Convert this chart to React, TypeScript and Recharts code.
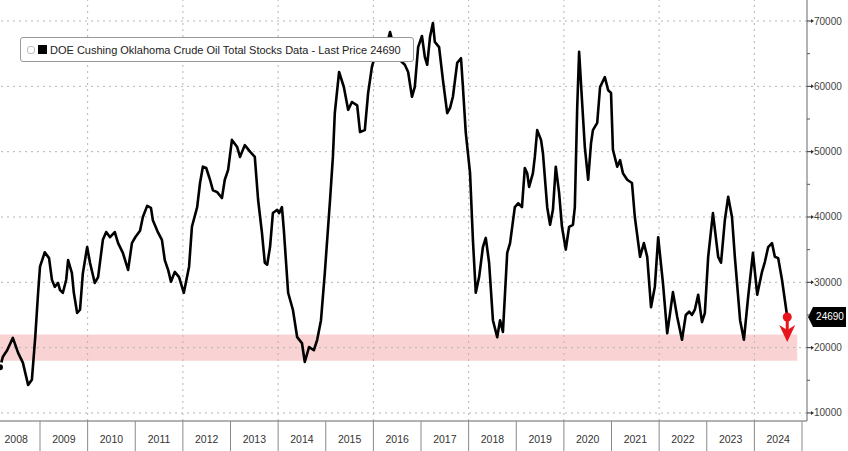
import React from "react";
import {
  LineChart,
  Line,
  XAxis,
  YAxis,
  ReferenceLine,
  ReferenceArea,
  ReferenceDot,
} from "recharts";

// Decimal-year dates of the weekly-ish readings
const dates = [
  2008.16, 2008.22, 2008.31, 2008.43, 2008.54, 2008.64, 2008.75, 2008.83, 2008.9, 2008.96,
  2009.0, 2009.1, 2009.19, 2009.25, 2009.31, 2009.38, 2009.42, 2009.48, 2009.55, 2009.59,
  2009.67, 2009.71, 2009.78, 2009.84, 2009.9, 2009.99, 2010.05, 2010.15, 2010.22, 2010.32,
  2010.39, 2010.47, 2010.57, 2010.64, 2010.74, 2010.85, 2010.93, 2011.0, 2011.1, 2011.16,
  2011.25, 2011.33, 2011.37, 2011.48, 2011.56, 2011.62, 2011.69, 2011.75, 2011.83, 2011.92,
  2012.02, 2012.13, 2012.19, 2012.3, 2012.36, 2012.42, 2012.49, 2012.57, 2012.63, 2012.72,
  2012.82, 2012.88, 2012.95, 2013.03, 2013.14, 2013.2, 2013.3, 2013.41, 2013.51, 2013.58,
  2013.66, 2013.72, 2013.77, 2013.83, 2013.89, 2013.98, 2014.02, 2014.08, 2014.12, 2014.21,
  2014.31, 2014.4, 2014.5, 2014.56, 2014.65, 2014.75, 2014.82, 2014.9, 2014.98, 2015.09,
  2015.15, 2015.19, 2015.28, 2015.38, 2015.47, 2015.55, 2015.66, 2015.72, 2015.82, 2015.89,
  2015.97, 2016.05, 2016.15, 2016.25, 2016.35, 2016.45, 2016.56, 2016.66, 2016.73, 2016.81,
  2016.87, 2016.94, 2017.02, 2017.08, 2017.13, 2017.19, 2017.25, 2017.29, 2017.38, 2017.46,
  2017.55, 2017.61, 2017.67, 2017.76, 2017.84, 2017.88, 2017.94, 2018.03, 2018.09, 2018.15,
  2018.22, 2018.3, 2018.36, 2018.43, 2018.51, 2018.6, 2018.66, 2018.72, 2018.81, 2018.87,
  2018.97, 2019.04, 2019.12, 2019.18, 2019.23, 2019.27, 2019.35, 2019.39, 2019.44, 2019.52,
  2019.56, 2019.65, 2019.71, 2019.77, 2019.83, 2019.9, 2019.96, 2020.04, 2020.11, 2020.19,
  2020.23, 2020.28, 2020.32, 2020.38, 2020.44, 2020.51, 2020.57, 2020.61, 2020.7, 2020.76,
  2020.86, 2020.93, 2020.99, 2021.03, 2021.12, 2021.18, 2021.24, 2021.33, 2021.43, 2021.49,
  2021.6, 2021.68, 2021.75, 2021.83, 2021.91, 2021.98, 2022.08, 2022.17, 2022.23, 2022.29,
  2022.38, 2022.48, 2022.56, 2022.63, 2022.69, 2022.75, 2022.82, 2022.9, 2022.96, 2023.03,
  2023.13, 2023.24, 2023.3, 2023.38, 2023.45, 2023.53, 2023.59, 2023.7, 2023.78, 2023.87,
  2023.97, 2024.06, 2024.16, 2024.22, 2024.29, 2024.37, 2024.43, 2024.5, 2024.58, 2024.64,
  2024.69,
];

// Cushing crude oil stocks (thousand barrels)
const stocks = [
  17000, 18600, 19600, 21500, 19200, 17700, 14300, 15100, 21600, 28400,
  32400, 34600, 33700, 30400, 29300, 29900, 28800, 28400, 30400, 33400,
  31400, 28400, 25300, 25800, 31400, 35400, 33000, 29900, 30800, 36500,
  37700, 36900, 37700, 36000, 34500, 31900, 36000, 36900, 37900, 40000,
  41700, 41400, 39500, 37600, 36500, 33400, 31900, 30100, 31600, 30800,
  28400, 32400, 38500, 41500, 45200, 47700, 47500, 45700, 44100, 43800,
  42900, 45700, 47200, 51800, 50700, 49200, 51000, 50000, 49200, 42600,
  37600, 33000, 32700, 35400, 40600, 41100, 40600, 41500, 38000, 28400,
  25800, 21600, 20700, 17800, 20100, 19600, 21200, 24200, 31400, 42600,
  49200, 55900, 62200, 59900, 56400, 57600, 57100, 53000, 53300, 59000,
  63000, 65000, 66500, 65500, 68300, 65500, 64000, 63300, 62200, 58400,
  59900, 66000, 67700, 64500, 63300, 67600, 69700, 66800, 66000, 61000,
  55900, 56700, 58400, 63600, 64300, 59900, 52900, 46700, 36500, 28400,
  30800, 35400, 36800, 33000, 24200, 21600, 24200, 22400, 34500, 36000,
  41500, 42100, 41500, 47500, 46700, 44600, 46700, 49200, 53300, 51800,
  49800, 41500, 38800, 41100, 47700, 43700, 38500, 35000, 38500, 38800,
  41500, 56800, 65300, 57900, 50700, 45700, 51300, 53300, 54400, 59900,
  61400, 59400, 59000, 50300, 47700, 48700, 46700, 45700, 45200, 40000,
  33900, 36000, 33900, 26200, 29300, 36900, 29900, 22200, 25300, 28500,
  24700, 21200, 25000, 25500, 25000, 25800, 28100, 23900, 25300, 33900,
  40600, 33900, 33000, 39500, 43100, 40000, 33900, 24200, 21200, 27800,
  34500, 28100, 31600, 33100, 35400, 36000, 33900, 33700, 30400, 27300,
  24690,
];

const yearBoundaries = [
  2009, 2010, 2011, 2012, 2013, 2014, 2015, 2016, 2017, 2018, 2019, 2020, 2021, 2022,
  2023, 2024, 2025,
];
const gridYears = [2010, 2012, 2014, 2016, 2018, 2020, 2022, 2024];
const yTicks = [
  10000, 15000, 20000, 25000, 30000, 35000, 40000, 45000, 50000, 55000, 60000, 65000, 70000,
];
const gridValues = [10000, 20000, 30000, 40000, 50000, 60000, 70000];
const bandLow = 18000;
const bandHigh = 22000;
const bandEnd = 2024.9;
const lastPrice = 24690;
const lastDate = 2024.69;
const legendText = "DOE Cushing Oklahoma Crude Oil Total Stocks Data - Last Price 24690";

const data = dates.map((t, i) => ({ t, v: stocks[i] }));

const FONT = "'Liberation Sans', Arial, sans-serif";
const YEAR_PX = 47.62;

const XTick = (props: any) => {
  const { x, y, payload } = props;
  const label = String(payload.value - 1);
  return (
    <g>
      <line x1={x} x2={x} y1={y} y2={y + 30} stroke="#8a8a8a" strokeWidth={1} />
      <text
        x={x - YEAR_PX / 2}
        y={y + 22}
        textAnchor="middle"
        fontSize={10.5}
        fontFamily={FONT}
        fill="#333"
      >
        {label}
      </text>
    </g>
  );
};

const YTick = (props: any) => {
  const { x, y, payload } = props;
  const major = payload.value % 10000 === 0;
  if (!major) {
    return <line x1={x} x2={x + 3} y1={y} y2={y} stroke="#555" strokeWidth={1} />;
  }
  return (
    <g>
      <line x1={x} x2={x + 4} y1={y} y2={y} stroke="#333" strokeWidth={1} />
      <polygon points={`${x + 4},${y - 2} ${x + 7},${y} ${x + 4},${y + 2}`} fill="#333" />
      <text
        x={x + 7}
        y={y + 3.5}
        textAnchor="start"
        fontSize={10}
        fontFamily={FONT}
        fill="#444"
      >
        {payload.value}
      </text>
    </g>
  );
};

const PriceLabel = (props: any) => {
  const vb = props.viewBox || {};
  const x0 = (vb.x || 0) + (vb.width || 0) + 1;
  const y = vb.y || 0;
  return (
    <g>
      <polygon
        points={`${x0},${y} ${x0 + 5},${y - 10} ${x0 + 38},${y - 10} ${x0 + 38},${y + 10} ${x0 + 5},${y + 10}`}
        fill="#000"
      />
      <text
        x={x0 + 22}
        y={y + 3.5}
        textAnchor="middle"
        fontSize={10}
        fontFamily={FONT}
        fill="#fff"
      >
        {lastPrice}
      </text>
    </g>
  );
};

const ArrowShape = (props: any) => {
  const { cx, cy } = props;
  const red = "#e8141c";
  return (
    <g>
      <line x1={cx} x2={cx} y1={cy} y2={cy + 18} stroke={red} strokeWidth={3} />
      <circle cx={cx} cy={cy} r={4.5} fill={red} />
      <polygon
        points={`${cx - 8},${cy + 8} ${cx},${cy + 13} ${cx + 8},${cy + 8} ${cx},${cy + 25}`}
        fill={red}
      />
    </g>
  );
};

export default function App() {
  return (
    <div style={{ position: "absolute", left: 0, top: 0, width: 848, height: 451, background: "#fff" }}>
      <LineChart
        width={848}
        height={451}
        data={data}
        margin={{ top: 0, right: 0, left: 0, bottom: 0 }}
      >
        <XAxis
          dataKey="t"
          type="number"
          domain={[2008.16, 2025.105]}
          ticks={yearBoundaries}
          tick={<XTick />}
          tickLine={false}
          tickSize={0}
          tickMargin={0}
          height={30}
          axisLine={{ stroke: "#666", strokeWidth: 1 }}
          allowDataOverflow
          interval={0}
        />
        <YAxis
          orientation="right"
          type="number"
          domain={[8770, 73215]}
          ticks={yTicks}
          tick={<YTick />}
          tickLine={false}
          tickSize={0}
          tickMargin={0}
          width={41}
          axisLine={{ stroke: "#666", strokeWidth: 1 }}
          allowDataOverflow
          interval={0}
        />
        <ReferenceArea
          x1={2008.16}
          x2={bandEnd}
          y1={bandLow}
          y2={bandHigh}
          fill="#f9d3d3"
          fillOpacity={1}
          stroke="none"
        />
        {gridValues.map((v) => (
          <ReferenceLine key={"h" + v} y={v} stroke="#b5b5b5" strokeDasharray="2 4" strokeWidth={1} />
        ))}
        {gridYears.map((yr) => (
          <ReferenceLine key={"v" + yr} x={yr} stroke="#b5b5b5" strokeDasharray="2 4" strokeWidth={1} />
        ))}
        <Line
          type="linear"
          dataKey="v"
          stroke="#000"
          strokeWidth={2.6}
          dot={false}
          isAnimationActive={false}
          strokeLinejoin="round"
        />
        <ReferenceLine y={lastPrice} stroke="none" label={<PriceLabel />} />
        <ReferenceDot x={lastDate} y={lastPrice} r={4} shape={<ArrowShape />} />
      </LineChart>
      <div
        style={{
          position: "absolute",
          left: 20,
          top: 37,
          width: 394,
          height: 25,
          border: "1px solid #9a9a9a",
          borderRadius: 3,
          background: "#fff",
          boxSizing: "border-box",
          display: "flex",
          alignItems: "center",
          fontFamily: FONT,
          fontSize: 11,
          color: "#222",
          whiteSpace: "nowrap",
          overflow: "hidden",
        }}
      >
        <span
          style={{
            display: "inline-block",
            width: 6,
            height: 6,
            borderRadius: 3,
            border: "1px solid #bbb",
            marginLeft: 6,
            marginRight: 3,
          }}
        />
        <span
          style={{ display: "inline-block", width: 9, height: 9, background: "#000", marginRight: 3 }}
        />
        <span>{legendText}</span>
      </div>
    </div>
  );
}
